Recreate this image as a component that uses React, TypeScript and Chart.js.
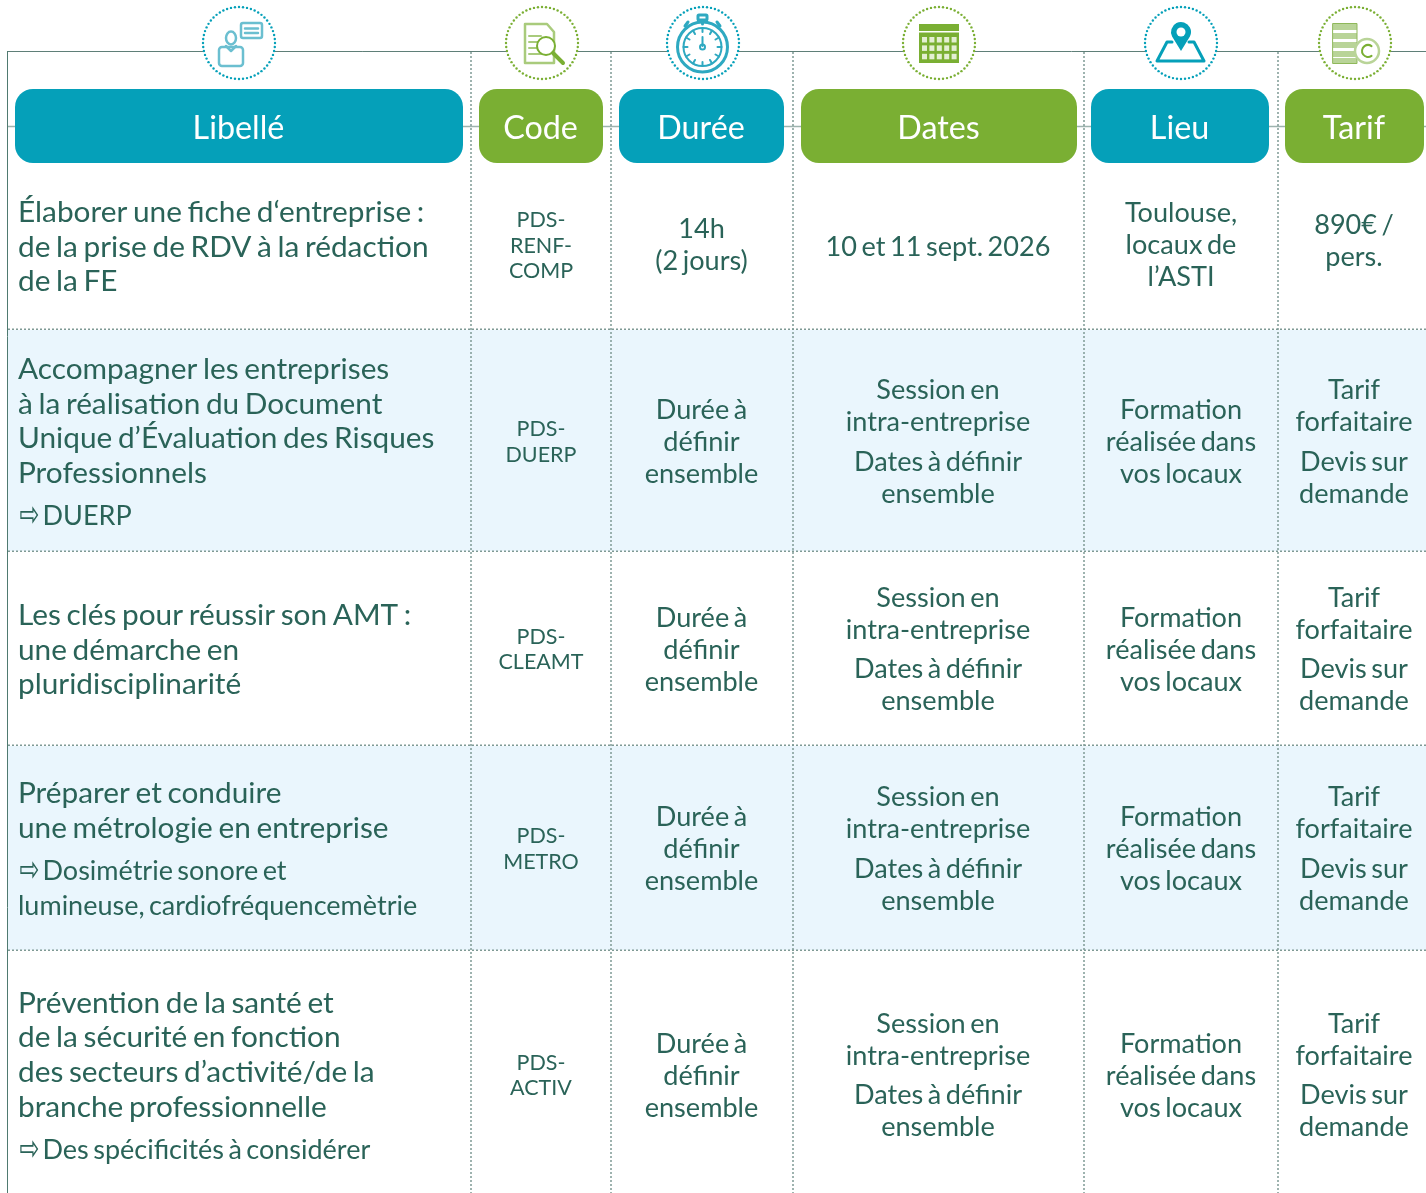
import React, { useEffect, useRef } from "react";
import { Chart, registerables } from "chart.js";

Chart.register(...registerables);

// ---- content ----
const headers = ["Libellé", "Code", "Durée", "Dates", "Lieu", "Tarif"];
const titles = [
  ["Élaborer une fiche d‘entreprise :", "de la prise de RDV à la rédaction", "de la FE"],
  ["Accompagner les entreprises", "à la réalisation du Document", "Unique d’Évaluation des Risques", "Professionnels", "⇨DUERP"],
  ["Les clés pour réussir son AMT :", "une démarche en", "pluridisciplinarité"],
  ["Préparer et conduire", "une métrologie en entreprise", "⇨Dosimétrie sonore et", "lumineuse, cardiofréquencemètrie"],
  ["Prévention de la santé et", "de la sécurité en fonction", "des secteurs d’activité/de la", "branche professionnelle", "⇨Des spécificités à considérer"],
];
const codes = [["PDS-", "RENF-", "COMP"], ["PDS-", "DUERP"], ["PDS-", "CLEAMT"], ["PDS-", "METRO"], ["PDS-", "ACTIV"]];
const durationDefault = ["Durée à", "définir", "ensemble"];
const durations = [["14h", "(2 jours)"], durationDefault, durationDefault, durationDefault, durationDefault];
const datesDefault = ["Session en", "intra-entreprise", "Dates à définir", "ensemble"];
const dates = [["10 et 11 sept. 2026"], datesDefault, datesDefault, datesDefault, datesDefault];
const placeDefault = ["Formation", "réalisée dans", "vos locaux"];
const places = [["Toulouse,", "locaux de", "l’ASTI"], placeDefault, placeDefault, placeDefault, placeDefault];
const priceDefault = ["Tarif", "forfaitaire", "Devis sur", "demande"];
const prices = [["890€ /", "pers."], priceDefault, priceDefault, priceDefault, priceDefault];

// ---- layout ----
const BLUE = "#05a0b9";
const GREEN = "#7aaf33";
const INK = "#2a6358";
const FONT = "Lato, 'Open Sans', sans-serif";
const pills: [number, number][] = [[15, 463], [479, 603], [619, 784], [801, 1077], [1091, 1269], [1285, 1424]];
const pillColors = [BLUE, GREEN, BLUE, GREEN, BLUE, GREEN];
const iconX = [239, 542, 703, 939, 1181, 1355];
const columnRules = [471, 611, 793, 1084, 1278];
const rowRules = [329, 551, 745, 950];
const bands: [number, number][] = [[330, 551], [746, 950]];
const colX = [541, 701.5, 938, 1181, 1354];
const titleY = [
  [212, 247, 281],
  [369, 404, 438, 473, 516],
  [615, 650, 684],
  [793, 828, 871, 906],
  [1003, 1037, 1072, 1107, 1150],
];
const subSize = 27;
const codeY = [[220, 246, 271], [429, 455], [637, 662], [836, 862], [1063, 1088]];
const durY = [[229.7, 261.7], [410.7, 442.7, 474.7], [618.7, 650.7, 682.7], [817.7, 849.7, 881.7], [1044.7, 1076.7, 1108.7]];
const dateY = [[247.7], [390.7, 422.7, 462.7, 494.7], [598.7, 630.7, 669.7, 701.7], [797.7, 829.7, 869.7, 901.7], [1024.7, 1056.7, 1095.7, 1127.7]];
const placeY = [[213.7, 245.7, 277.7], [410.7, 442.7, 474.7], [618.7, 650.7, 682.7], [817.7, 849.7, 881.7], [1044.7, 1076.7, 1108.7]];
const priceY = [[225.7, 257.7], [390.7, 422.7, 462.7, 494.7], [598.7, 630.7, 669.7, 701.7], [797.7, 829.7, 869.7, 901.7], [1024.7, 1056.7, 1095.7, 1127.7]];

const tablePlugin = {
  id: "table",
  afterDraw(chart: any) {
    const c: any = chart.ctx;
    const X = (v: number) => chart.scales.x.getPixelForValue(v);
    const Y = (v: number) => chart.scales.y.getPixelForValue(v);
    const line = (x0: number, y0: number, x1: number, y1: number, color: string, w: number, dash: number[] = []) => {
      c.save();
      c.strokeStyle = color;
      c.lineWidth = w;
      c.setLineDash(dash);
      c.beginPath();
      c.moveTo(X(x0), Y(y0));
      c.lineTo(X(x1), Y(y1));
      c.stroke();
      c.restore();
    };
    const text = (s: string, x: number, y: number, size: number, align: CanvasTextAlign = "center", color = INK, ws = 0) => {
      c.font = `${size}px ${FONT}`;
      c.wordSpacing = `${ws}px`;
      c.fillStyle = color;
      c.textAlign = align;
      c.textBaseline = "middle";
      c.fillText(s, X(x), Y(y));
      c.wordSpacing = "0px";
    };

    // bands
    c.fillStyle = "#eaf6fd";
    bands.forEach(([a, b]) => c.fillRect(X(8), Y(a), X(1426) - X(8), Y(b) - Y(a)));

    // rules
    line(7.5, 51.5, 1426, 51.5, "#5f7f78", 1);
    line(7.5, 51, 7.5, 1193, "#4f7a70", 1);
    line(8, 126.5, 1426, 126.5, "#9db3ae", 1.5);
    columnRules.forEach((x) => line(x, 52, x, 1193, "#7f9a95", 1.5, [2, 2]));
    rowRules.forEach((y) => line(8, y + 0.25, 1426, y + 0.25, "#7f9a95", 1.5, [2, 2]));

    // header pills
    pills.forEach(([a, b], i) => {
      c.fillStyle = pillColors[i];
      c.beginPath();
      c.roundRect(X(a), Y(89), X(b) - X(a), Y(163) - Y(89), 18);
      c.fill();
      text(headers[i], (a + b) / 2 - 0.5, 129, 32.3, "center", "#ffffff");
    });

    // icons
    iconX.forEach((x, i) => {
      const col = pillColors[i];
      c.fillStyle = "#ffffff";
      c.beginPath();
      c.arc(X(x), Y(43), 36, 0, Math.PI * 2);
      c.fill();
      c.fillStyle = col;
      for (let k = 0; k < 56; k++) {
        const t = (k / 56) * Math.PI * 2;
        c.beginPath();
        c.arc(X(x) + 36 * Math.cos(t), Y(43) + 36 * Math.sin(t), 1.2, 0, Math.PI * 2);
        c.fill();
      }
    });
    drawIcons(c, X, Y);

    // body
    titles.forEach((lines, r) =>
      lines.forEach((s, l) => {
        if (s.startsWith("⇨")) {
          c.save();
          c.font = `27px 'DejaVu Sans'`;
          c.fillStyle = INK;
          c.textAlign = "left";
          c.textBaseline = "middle";
          c.translate(X(19.5), Y(titleY[r][l]) + 1);
          c.scale(0.88, 1.3);
          c.fillText("⇨", 0, 0);
          c.restore();
          text(s.slice(1), 42.5, titleY[r][l], subSize, "left", INK, -2.5);
        } else if (s.startsWith("lumineuse")) {
          text(s, 18, titleY[r][l], subSize, "left", INK, -2.5);
        } else {
          text(s, 18, titleY[r][l], 29.8, "left", INK, -2);
        }
      })
    );
    const body = (s: string, x: number, y: number) => text(s, x, y, 27.1, "center", INK, -2.4);
    codes.forEach((lines, r) => lines.forEach((s, l) => text(s, colX[0], codeY[r][l], 21.5)));
    durations.forEach((lines, r) => lines.forEach((s, l) => body(s, colX[1], durY[r][l])));
    dates.forEach((lines, r) => lines.forEach((s, l) => body(s, colX[2], dateY[r][l])));
    places.forEach((lines, r) => lines.forEach((s, l) => body(s, colX[3], placeY[r][l])));
    prices.forEach((lines, r) => lines.forEach((s, l) => body(s, colX[4], priceY[r][l])));
  },
};

function drawIcons(c: CanvasRenderingContext2D, X: (v: number) => number, Y: (v: number) => number) {
  const LB = "#6bbfd0";
  const LG = "#a9cb7c";
  c.save();
  c.lineCap = "round";
  c.lineJoin = "round";
  // person and speech bubble
  c.strokeStyle = LB;
  c.lineWidth = 2.5;
  c.beginPath();
  c.roundRect(X(219), Y(47), 24, 19, 3);
  c.stroke();
  c.beginPath();
  c.ellipse(X(231), Y(38), 5, 6.5, 0, 0, Math.PI * 2);
  c.stroke();
  c.beginPath();
  c.moveTo(X(226), Y(46));
  c.lineTo(X(231), Y(51));
  c.lineTo(X(236), Y(46));
  c.stroke();
  c.beginPath();
  c.roundRect(X(241), Y(23), 21, 15, 2);
  c.stroke();
  c.beginPath();
  c.moveTo(X(245), Y(28.5));
  c.lineTo(X(258), Y(28.5));
  c.moveTo(X(245), Y(33));
  c.lineTo(X(258), Y(33));
  c.stroke();
  // document and magnifier
  c.strokeStyle = LG;
  c.lineWidth = 2.5;
  c.beginPath();
  c.moveTo(X(525), Y(24));
  c.lineTo(X(547), Y(24));
  c.lineTo(X(554), Y(32));
  c.lineTo(X(554), Y(63));
  c.lineTo(X(525), Y(63));
  c.closePath();
  c.stroke();
  c.lineWidth = 2;
  [36, 42, 48, 54].forEach((y) => {
    c.beginPath();
    c.moveTo(X(529), Y(y));
    c.lineTo(X(541), Y(y));
    c.stroke();
  });
  c.fillStyle = "#ffffff";
  c.beginPath();
  c.arc(X(546), Y(46), 9, 0, Math.PI * 2);
  c.fill();
  c.strokeStyle = GREEN;
  c.stroke();
  c.lineWidth = 4;
  c.beginPath();
  c.moveTo(X(553), Y(53));
  c.lineTo(X(563), Y(63));
  c.stroke();
  // stopwatch
  c.strokeStyle = "#2ea9c1";
  c.lineWidth = 3;
  c.beginPath();
  c.arc(X(702.5), Y(47), 25, 0, Math.PI * 2);
  c.stroke();
  c.lineWidth = 2;
  c.beginPath();
  c.arc(X(702.5), Y(47), 19, 0, Math.PI * 2);
  c.stroke();
  for (let k = 0; k < 12; k++) {
    const t = (k / 12) * Math.PI * 2;
    c.beginPath();
    c.moveTo(X(702.5) + 15 * Math.cos(t), Y(47) + 15 * Math.sin(t));
    c.lineTo(X(702.5) + 19 * Math.cos(t), Y(47) + 19 * Math.sin(t));
    c.stroke();
  }
  c.beginPath();
  c.moveTo(X(702.5), Y(37));
  c.lineTo(X(702.5), Y(46));
  c.stroke();
  c.beginPath();
  c.arc(X(702.5), Y(47), 2.5, 0, Math.PI * 2);
  c.stroke();
  c.lineWidth = 3;
  c.beginPath();
  c.roundRect(X(698), Y(15), 9, 5, 1);
  c.moveTo(X(702.5), Y(20));
  c.lineTo(X(702.5), Y(24));
  c.moveTo(X(688), Y(22));
  c.lineTo(X(685), Y(26));
  c.moveTo(X(717), Y(22));
  c.lineTo(X(720), Y(26));
  c.stroke();
  // calendar
  c.fillStyle = GREEN;
  c.fillRect(X(919), Y(24), 40, 39);
  c.fillStyle = "#e4efd3";
  for (let r = 0; r < 3; r++)
    for (let k = 0; k < 5; k++) c.fillRect(X(922 + k * 7.4), Y(37 + r * 8.4), 5, 5.5);
  c.fillStyle = "#ffffff";
  c.fillRect(X(919), Y(31), 40, 1.5);
  // location pin
  c.strokeStyle = BLUE;
  c.lineWidth = 3;
  c.beginPath();
  c.moveTo(X(1172), Y(42));
  c.lineTo(X(1167), Y(42));
  c.lineTo(X(1157), Y(61));
  c.lineTo(X(1204), Y(61));
  c.lineTo(X(1194), Y(42));
  c.lineTo(X(1189), Y(42));
  c.stroke();
  c.fillStyle = BLUE;
  c.beginPath();
  c.arc(X(1181), Y(32), 10, Math.PI * 0.85, Math.PI * 0.15);
  c.lineTo(X(1181), Y(51));
  c.closePath();
  c.fill();
  c.fillStyle = "#ffffff";
  c.beginPath();
  c.arc(X(1181), Y(32), 4.5, 0, Math.PI * 2);
  c.fill();
  // coins
  c.fillStyle = "#b9d498";
  [24, 33, 42, 51, 58].forEach((y) => c.fillRect(X(1333), Y(y), 24, 6));
  c.strokeStyle = "#8fb85a";
  c.lineWidth = 1;
  c.strokeRect(X(1333), Y(23.5), 24, 40);
  c.fillStyle = "#ffffff";
  c.beginPath();
  c.arc(X(1367), Y(51), 12, 0, Math.PI * 2);
  c.fill();
  c.strokeStyle = "#b9d498";
  c.lineWidth = 2.5;
  c.stroke();
  c.strokeStyle = GREEN;
  c.lineWidth = 2;
  c.beginPath();
  c.arc(X(1368), Y(51), 6, Math.PI * 0.3, Math.PI * 1.7);
  c.stroke();
  c.restore();
}

export default function App() {
  const ref = useRef<HTMLCanvasElement>(null);
  useEffect(() => {
    document.body.style.margin = "0";
    const chart = new Chart(ref.current!, {
      type: "scatter",
      data: { datasets: [] },
      options: {
        responsive: false,
        animation: false,
        layout: { padding: 0 },
        plugins: { legend: { display: false }, tooltip: { enabled: false }, title: { display: false } },
        scales: {
          x: { type: "linear", display: false, min: 0, max: 1426 },
          y: { type: "linear", display: false, min: 0, max: 1193, reverse: true },
        },
      },
      plugins: [tablePlugin],
    });
    return () => chart.destroy();
  }, []);
  return <canvas ref={ref} width={1426} height={1193} style={{ display: "block", background: "#fff" }} />;
}
